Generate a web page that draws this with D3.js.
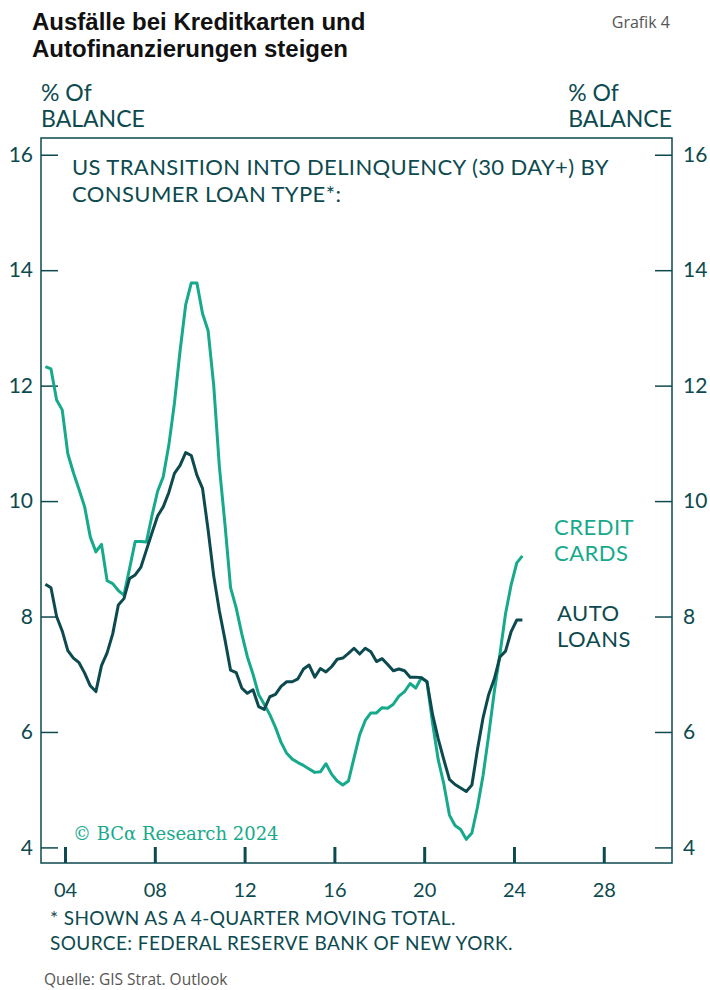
<!DOCTYPE html>
<html lang="de">
<head>
<meta charset="UTF-8">
<script src="https://cdn.jsdelivr.net/npm/d3@7"></script>
<style>
  body { margin: 0; background: #fff; }
  svg { display: block; }
</style>
</head>
<body>
<div id="chart"></div>
<script>
// quarterly, 2003Q1 .. 2024Q2
var startYear = 2003;
var creditCards = [
  12.33, 12.29, 11.75, 11.58, 10.82, 10.49, 10.2, 9.9, 9.38, 9.12,
  9.25, 8.62, 8.57, 8.45, 8.37, 8.83, 9.3, 9.3, 9.29, 9.75,
  10.17, 10.42, 10.97, 11.7, 12.6, 13.4, 13.78, 13.78, 13.25, 12.95,
  12.0, 10.6, 9.6, 8.5, 8.15, 7.7, 7.3, 7.0, 6.65, 6.48,
  6.3, 6.08, 5.82, 5.63, 5.53, 5.47, 5.42, 5.36, 5.3, 5.31,
  5.45, 5.27, 5.15, 5.08, 5.15, 5.55, 5.95, 6.2, 6.33, 6.33,
  6.42, 6.41, 6.48, 6.62, 6.7, 6.84, 6.76, 6.94, 6.87, 6.15,
  5.52, 5.1, 4.56, 4.38, 4.31, 4.14, 4.25, 4.7, 5.25, 5.95,
  6.7, 7.35, 8.05, 8.55, 8.93, 9.05
];
var autoLoans = [
  8.56, 8.5, 8.0, 7.75, 7.41, 7.28, 7.2, 7.02, 6.8, 6.7,
  7.15, 7.37, 7.7, 8.2, 8.31, 8.66, 8.72, 8.85, 9.15, 9.45,
  9.74, 9.9, 10.15, 10.48, 10.62, 10.84, 10.79, 10.45, 10.22, 9.5,
  8.7, 8.1, 7.6, 7.07, 7.03, 6.76, 6.67, 6.73, 6.44, 6.39,
  6.61, 6.65, 6.79, 6.87, 6.87, 6.92, 7.09, 7.16, 6.95, 7.1,
  7.04, 7.13, 7.26, 7.28, 7.36, 7.45, 7.35, 7.45, 7.39, 7.22,
  7.27, 7.17, 7.06, 7.09, 7.06, 6.95, 6.95, 6.94, 6.87, 6.3,
  5.88, 5.52, 5.18, 5.09, 5.03, 4.97, 5.08, 5.7, 6.25, 6.65,
  6.92, 7.3, 7.4, 7.74, 7.94, 7.94
];
var yTicks = [4, 6, 8, 10, 12, 14, 16];
var xTicks = [2004, 2008, 2012, 2016, 2020, 2024, 2028];

var W = 710, H = 990;
var dark = "#0d4a4f", green = "#17a98b";
var sans = "Lato, 'Open Sans', sans-serif";

var svg = d3.select("#chart").append("svg")
  .attr("width", W).attr("height", H);

var pL = 41, pR = 672, pT = 138, pB = 863;

var x = d3.scaleLinear().domain([2002.93, 2031.04]).range([pL, pR]);
var y = d3.scaleLinear().domain([3.73, 16.29]).range([pB, pT]);

function qTime(i) { return startYear + 0.125 + i * 0.25; }

function label(px, py, size, color, txt, spacing) {
  return svg.append("text").attr("x", px).attr("y", py)
    .attr("font-family", sans).attr("font-size", size).attr("fill", color)
    .attr("letter-spacing", spacing || 0).text(txt);
}

// header
svg.append("text").attr("x", 32).attr("y", 30)
  .attr("font-family", "'Liberation Sans', Arial, sans-serif")
  .attr("font-weight", "bold").attr("font-size", 24).attr("fill", "#111")
  .text("Ausfälle bei Kreditkarten und");
svg.append("text").attr("x", 32).attr("y", 57)
  .attr("font-family", "'Liberation Sans', Arial, sans-serif")
  .attr("font-weight", "bold").attr("font-size", 24).attr("fill", "#111")
  .text("Autofinanzierungen steigen");
svg.append("text").attr("x", 670).attr("y", 28).attr("text-anchor", "end")
  .attr("font-family", "'Open Sans', sans-serif").attr("font-size", 16)
  .attr("fill", "#555").text("Grafik 4");

// unit labels
label(41, 101, 23, dark, "% Of");
label(41, 127, 23, dark, "BALANCE");
var bw = label(0, 127, 23, dark, "BALANCE");
var w = bw.node().getComputedTextLength();
bw.attr("x", pR - w);
label(pR - w, 101, 23, dark, "% Of");

// frame
svg.append("rect").attr("x", pL).attr("y", pT)
  .attr("width", pR - pL).attr("height", pB - pT)
  .attr("fill", "none").attr("stroke", dark).attr("stroke-width", 1.5);

// axes
var yl = svg.append("g").attr("transform", "translate(" + pL + ",0)")
  .call(d3.axisLeft(y).tickValues(yTicks).tickSize(-17).tickPadding(8));
var yr = svg.append("g").attr("transform", "translate(" + pR + ",0)")
  .call(d3.axisRight(y).tickValues(yTicks).tickSize(-17).tickPadding(11));
var xb = svg.append("g").attr("transform", "translate(0," + pB + ")")
  .call(d3.axisBottom(x).tickValues(xTicks).tickSize(-16).tickPadding(20)
    .tickFormat(function (d) { return String(d % 100).padStart(2, "0"); }));

[yl, yr, xb].forEach(function (g) {
  g.select(".domain").remove();
  g.selectAll("line").attr("stroke", dark).attr("stroke-width", 1.5);
  g.selectAll("text").attr("fill", dark).attr("font-family", sans)
    .attr("font-size", 21);
});
xb.selectAll("line").attr("stroke-width", 3);
xb.selectAll("text").attr("font-size", 20);

// inner title
label(72, 175, 22, dark, "US TRANSITION INTO DELINQUENCY (30 DAY+) BY", 0.4);
label(72, 202, 22, dark, "CONSUMER LOAN TYPE*:", 0.4);

// watermark
svg.append("text").attr("x", 73).attr("y", 840)
  .attr("font-family", "'DejaVu Serif', serif").attr("font-size", 18)
  .attr("fill", green).text("© BCα Research 2024");

// lines
var line = d3.line()
  .x(function (d, i) { return x(qTime(i)); })
  .y(function (d) { return y(d); });

svg.append("path").datum(creditCards)
  .attr("d", line).attr("fill", "none")
  .attr("stroke", green).attr("stroke-width", 3)
  .attr("stroke-linejoin", "round");
svg.append("path").datum(autoLoans)
  .attr("d", line).attr("fill", "none")
  .attr("stroke", dark).attr("stroke-width", 3)
  .attr("stroke-linejoin", "round");

// series labels
label(554, 535, 22, green, "CREDIT", 0.5);
label(554, 561, 22, green, "CARDS", 0.5);
label(557, 621, 22, dark, "AUTO", 0.5);
label(557, 647, 22, dark, "LOANS", 0.5);

// footnotes
label(50, 925, 19, dark, "* SHOWN AS A 4-QUARTER MOVING TOTAL.", 0.4);
label(50, 950, 19, dark, "SOURCE: FEDERAL RESERVE BANK OF NEW YORK.", 0.4);
svg.append("text").attr("x", 44).attr("y", 985)
  .attr("font-family", "'Open Sans', sans-serif").attr("font-size", 15.5)
  .attr("fill", "#555").text("Quelle: GIS Strat. Outlook");
</script>
</body>
</html>
